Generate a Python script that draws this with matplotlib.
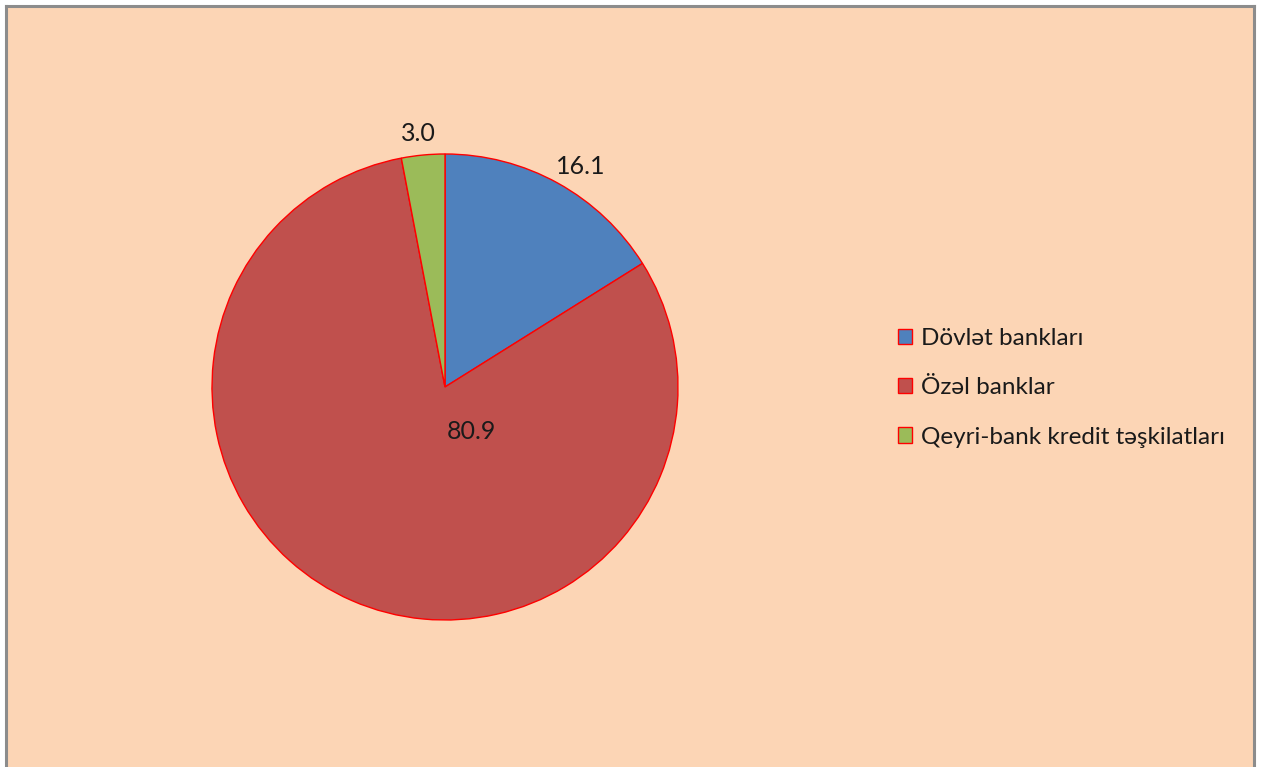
import matplotlib
matplotlib.use("Agg")
import matplotlib.pyplot as plt
from matplotlib.patches import Rectangle
import numpy as np

categories = ["Dövlət bankları", "Özəl banklar", "Qeyri-bank kredit təşkilatları"]
values = [16.1, 80.9, 3.0]
colors = ["#4F81BD", "#C0504D", "#9BBB59"]
label_texts = ["16.1", "80.9", "3.0"]

W, H = 1261, 767
fig = plt.figure(figsize=(W / 100, H / 100), dpi=100)
bg = "#FCD5B5"
fig.patch.set_facecolor(bg)

cx, cy, r = 445, 387, 233
ax = fig.add_axes([(cx - r) / W, (H - cy - r) / H, 2 * r / W, 2 * r / H])
ax.set_facecolor("none")
wedges, _ = ax.pie(values, colors=colors, startangle=90, counterclock=False,
                   radius=1.0, wedgeprops=dict(edgecolor="#FF0000", linewidth=1.0))
ax.set_xlim(-1, 1)
ax.set_ylim(-1, 1)
ax.set_aspect("equal")
ax.axis("off")

fontfam = ["Lato", "DejaVu Sans"]
# labels: outside for small slices, inside for the large one
for w, t in zip(wedges, label_texts):
    mid = np.deg2rad((w.theta1 + w.theta2) / 2)
    if t == "80.9":
        x, y = 0.115, -0.19
    elif t == "16.1":
        x, y = 1.11 * np.cos(mid - 0.045), 1.11 * np.sin(mid - 0.045)
    else:
        x, y = 1.095 * np.cos(mid + 0.01), 1.095 * np.sin(mid + 0.01)
    ax.text(x, y, t, ha="center", va="center", fontsize=18, color="#1a1a1a",
            family=fontfam, clip_on=False)

leg = fig.legend(wedges, categories, loc="upper left",
                 bbox_to_anchor=(876 / W, 1 - 306 / H), frameon=False,
                 prop=dict(family=fontfam, size=17.5), labelspacing=1.17,
                 handlelength=0.6, handleheight=0.6, handletextpad=0.35,
                 labelcolor="#1a1a1a")

# border
lc = "#8C8C8C"
fig.add_artist(plt.Line2D([6 / W, 6 / W], [0, 1 - 6 / H], color=lc, lw=2.2, transform=fig.transFigure))
fig.add_artist(plt.Line2D([6 / W, 1254 / W], [1 - 6 / H, 1 - 6 / H], color=lc, lw=2.2, transform=fig.transFigure))
fig.add_artist(plt.Line2D([1254 / W, 1254 / W], [0, 1 - 6 / H], color=lc, lw=2.2, transform=fig.transFigure))
# white outside border
fig.add_artist(Rectangle((0, 0), 5 / W, 1, color="white", transform=fig.transFigure))
fig.add_artist(Rectangle((0, 1 - 5 / H), 1, 5 / H, color="white", transform=fig.transFigure))
fig.add_artist(Rectangle((1255.2 / W, 0), 6 / W, 1, color="white", transform=fig.transFigure))

fig.savefig("out.png", dpi=100, facecolor=bg)
